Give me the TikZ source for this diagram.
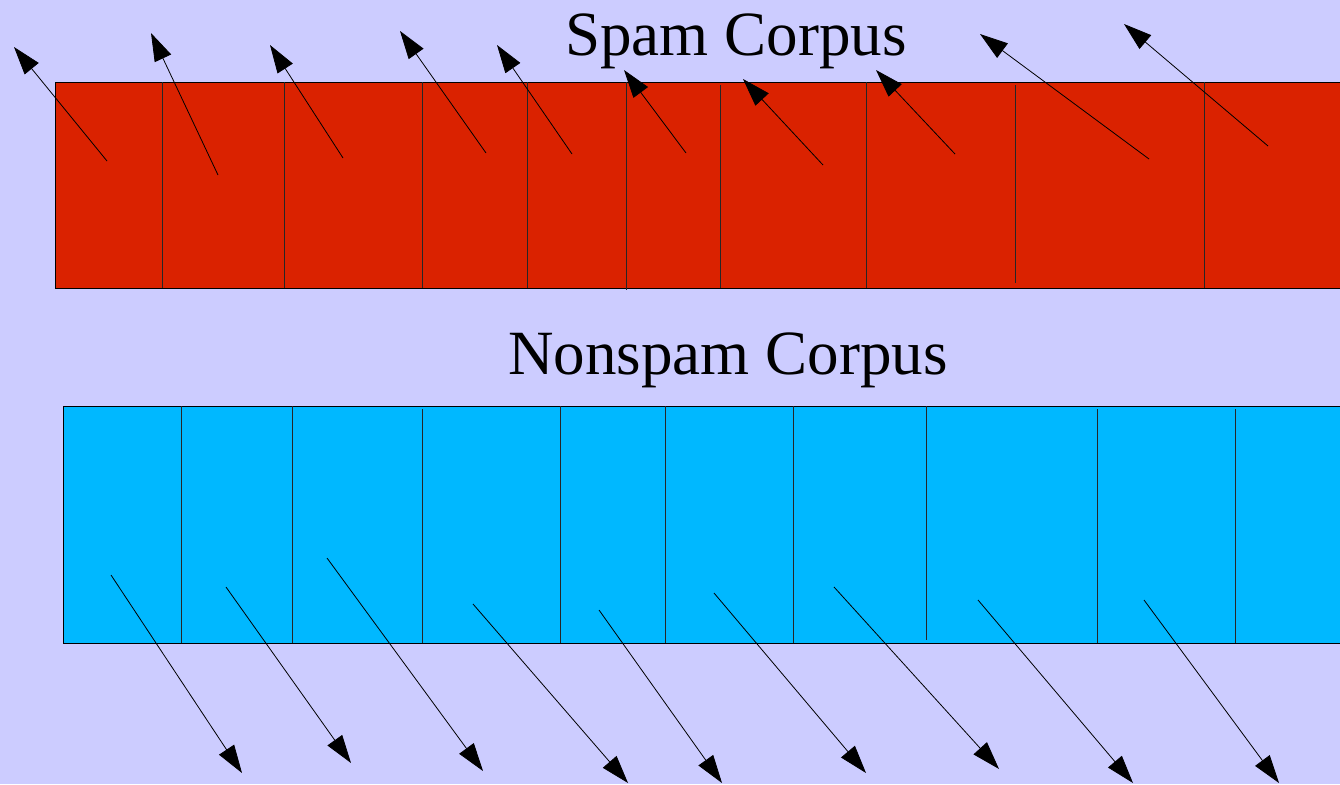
\documentclass[tikz,border=0pt]{standalone}
\usepackage{fontspec}
\setmainfont{Liberation Serif}
\usetikzlibrary{arrows.meta}
\definecolor{bgc}{RGB}{204,204,255}
\definecolor{spamred}{RGB}{218,34,0}
\definecolor{hamblue}{RGB}{0,184,255}
\begin{document}
\begin{tikzpicture}[x=1pt,y=-1pt,
  bar/.style={draw=black,line width=0.9pt},
  divider/.style={draw=black!85,line width=0.9pt},
  arr/.style={draw=black,line width=0.8pt,-{Triangle[length=28pt,width=18pt]}},
  title/.style={font=\fontsize{63pt}{70pt}\selectfont,anchor=base,inner sep=0pt}]
\fill[bgc] (0,0) rectangle (1340,784);
\useasboundingbox (0,0) rectangle (1340,784);
% spam bar
\fill[spamred] (55,82) rectangle (1342,288);
\draw[bar] (1342,82) -- (55,82) -- (55,288) -- (1342,288);
\foreach \x/\a/\b in {162/82/288,284/82/288,422/82/288,527/82/288,626/82/290,720/85/288,866/82/288,1015/85/283,1204/82/288}
  \draw[divider] (\x,\a) -- (\x,\b);
% nonspam bar
\fill[hamblue] (63,406) rectangle (1342,643);
\draw[bar] (1342,406) -- (63,406) -- (63,643) -- (1342,643);
\foreach \x/\a/\b in {181/406/643,292/406/643,422/409/643,560/406/643,665/406/643,793/406/643,926/406/640,1097/409/643,1235/409/643}
  \draw[divider] (\x,\a) -- (\x,\b);
% titles
\node[title] (spam) at (736,56) {Spam Corpus};
\node[title] (ham) at (728,374) {Nonspam Corpus};
% spam arrows
\foreach \i/\sx/\sy/\tx/\ty in {1/107/161/14/47, 2/218/175/151/33, 3/343/158/270/45, 4/486/153/400/31, 5/572/154/497/45, 6/686/153/624/70, 7/823/165/743/79, 8/955/154/876/70, 9/1149/159/980/34, 10/1268/146/1124/24}{
  \coordinate (s\i) at (\sx,\sy);
  \coordinate (st\i) at (\tx,\ty);
  \draw[arr] (s\i) -- (st\i);
}
% nonspam arrows
\foreach \i/\sx/\sy/\tx/\ty in {1/111/575/242/773, 2/226/587/351/763, 3/327/558/483/771, 4/473/604/628/783, 5/599/610/722/783, 6/714/593/866/773, 7/834/587/999/769, 8/978/600/1133/783, 9/1144/600/1279/783}{
  \coordinate (n\i) at (\sx,\sy);
  \coordinate (nt\i) at (\tx,\ty);
  \draw[arr] (n\i) -- (nt\i);
}
\end{tikzpicture}
\end{document}
